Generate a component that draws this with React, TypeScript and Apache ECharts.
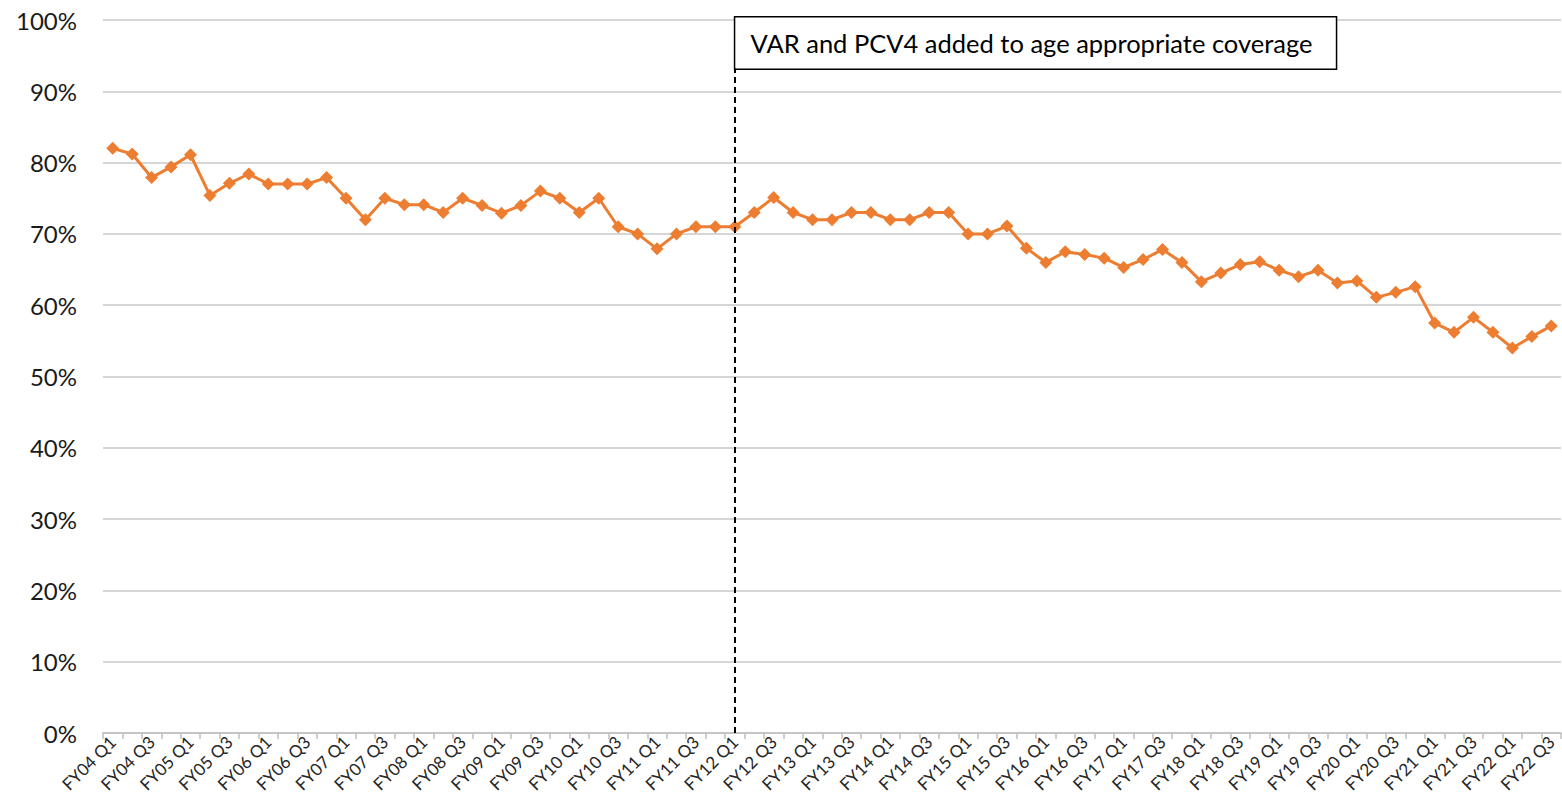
import React, { useEffect, useRef } from "react";
import * as echarts from "echarts";

const years = ["04","05","06","07","08","09","10","11","12","13","14","15","16","17","18","19","20","21","22"];
const quarters = ["Q1", "Q2", "Q3", "Q4"];
const categories: string[] = [];
years.forEach((y) => quarters.forEach((q) => categories.push(`FY${y} ${q}`)));
categories.splice(75); // through FY22 Q3

const coverage = [
  82, 81.2, 77.9, 79.4, 81.1, 75.4, 77.1, 78.4, 77, 77, 77, 77.9, 75, 72, 75, 74.1,
  74.1, 73, 75, 74, 72.9, 74, 76, 75, 73, 75, 71, 70, 67.9, 70, 71, 71,
  71, 73, 75.1, 73, 72, 72, 73, 73, 72, 72, 73, 73, 70, 70, 71.1, 68,
  66, 67.5, 67.1, 66.6, 65.3, 66.4, 67.8, 66, 63.3, 64.5, 65.7, 66.1, 64.9, 64, 64.9, 63.1,
  63.4, 61.1, 61.8, 62.6, 57.5, 56.2, 58.3, 56.2, 54, 55.6, 57.1,
];

const annotationCategory = "FY12 Q1";
const annotationText = "VAR and PCV4 added to age appropriate coverage";
const annotationLineTop = 93.2;

export default function App() {
  const ref = useRef<HTMLDivElement>(null);
  useEffect(() => {
    if (!ref.current) return;
    const chart = echarts.init(ref.current, null, { renderer: "svg" });
    chart.setOption({
      animation: false,
      backgroundColor: "#fff",
      grid: { left: 103, right: 1, top: 20, bottom: 79 },
      xAxis: {
        type: "category",
        data: categories,
        boundaryGap: true,
        axisLine: { lineStyle: { color: "#bfbfbf", width: 1.5 } },
        axisTick: { show: true, interval: 0, length: 6, lineStyle: { color: "#bfbfbf", width: 1.5 } },
        axisLabel: {
          interval: 1,
          rotate: 45,
          fontFamily: "Lato",
          fontSize: 17,
          color: "#262626",
          margin: 6,
        },
      },
      yAxis: {
        type: "value",
        min: 0,
        max: 100,
        interval: 10,
        axisLine: { show: false },
        axisTick: { show: false },
        axisLabel: {
          formatter: "{value}%",
          fontFamily: "Lato",
          fontSize: 24,
          color: "#1a1a1a",
          margin: 26,
        },
        splitLine: { lineStyle: { color: "#c8c8c8", width: 1.5 } },
      },
      series: [
        {
          type: "line",
          data: coverage,
          symbol: "diamond",
          symbolSize: 13,
          showAllSymbol: true,
          lineStyle: { color: "#ED7D31", width: 3 },
          itemStyle: { color: "#ED7D31" },
          markLine: {
            silent: true,
            symbol: "none",
            label: { show: false },
            lineStyle: { color: "#000", type: [6, 4], width: 2 },
            data: [
              [
                { coord: [annotationCategory, 0] },
                { coord: [annotationCategory, annotationLineTop] },
              ],
            ],
          },
        },
      ],
    });
    const [bx, by] = chart.convertToPixel({ seriesIndex: 0 }, [annotationCategory, annotationLineTop]) as number[];
    const topY = (chart.convertToPixel({ seriesIndex: 0 }, [annotationCategory, 100]) as number[])[1] - 4;
    chart.setOption({
      graphic: [
        {
          type: "group",
          left: bx - 1,
          top: topY,
          children: [
            {
              type: "rect",
              shape: { x: 0, y: 0, width: 602, height: by - topY },
              style: { fill: "#fff", stroke: "#000", lineWidth: 1.5 },
            },
            {
              type: "text",
              x: 16,
              y: (by - topY) / 2,
              style: {
                text: annotationText,
                fontFamily: "Lato",
                fontSize: 25.5,
                fill: "#000",
                verticalAlign: "middle",
              },
            },
          ],
        },
      ],
    });
    return () => chart.dispose();
  }, []);
  return (
    <div
      ref={ref}
      style={{ position: "fixed", left: 0, top: 0, width: 1562, height: 812 }}
    />
  );
}
